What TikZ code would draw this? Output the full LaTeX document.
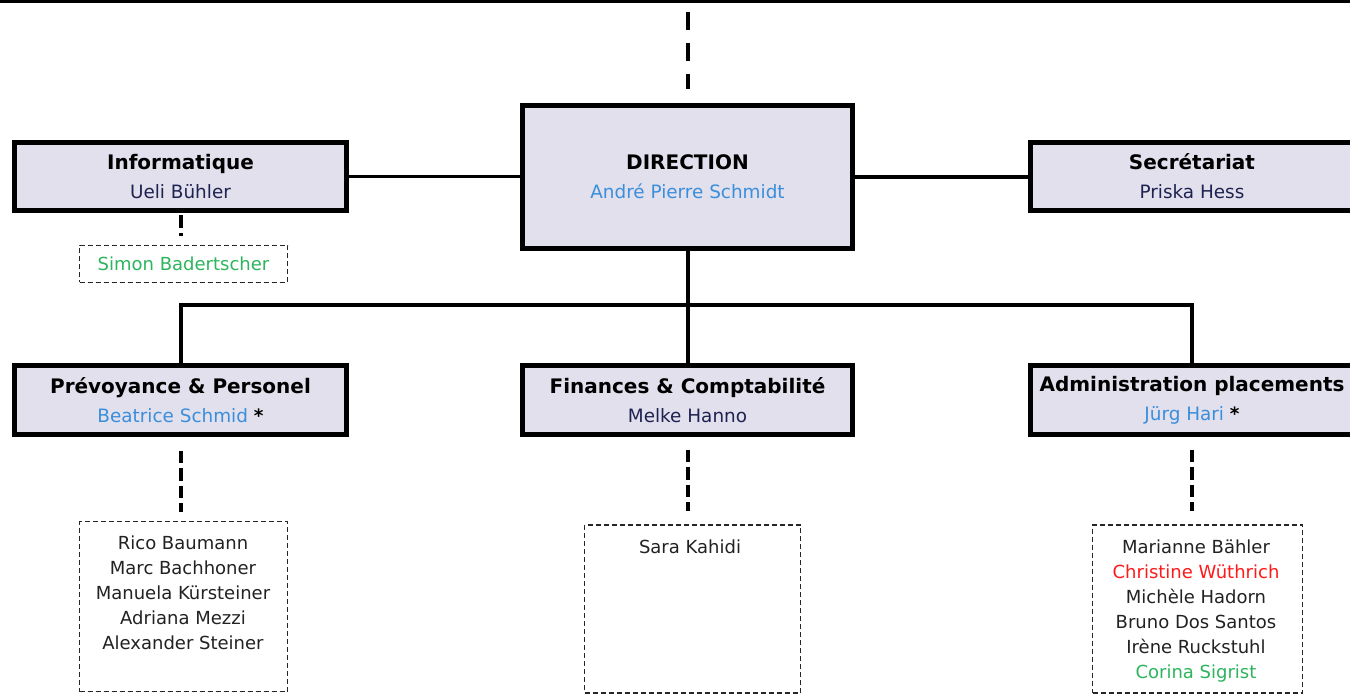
\documentclass[tikz,border=0pt]{standalone}
\usepackage{fontspec}
\setmainfont{DejaVu Sans}
\definecolor{boxfill}{HTML}{E2E0ED}
\definecolor{namenavy}{HTML}{1E2250}
\definecolor{headblue}{HTML}{3B8EDB}
\definecolor{staffgray}{HTML}{222222}
\definecolor{staffgreen}{HTML}{2DB55D}
\definecolor{staffred}{HTML}{FF1A1A}
\newcommand{\unittitle}[1]{{\bfseries\fontsize{10}{14.5}\selectfont #1}}
\begin{document}
\begin{tikzpicture}[x=0.5pt,y=-0.5pt,
  unitbox/.style={draw=black, line width=2.5pt, fill=boxfill, inner sep=0pt, align=center,
    font=\fontsize{9.2}{14.5}\selectfont},
  staffbox/.style={draw=black!85, line width=0.65pt, dash pattern=on 2.5pt off 1.5pt, inner sep=0pt},
  stafftext/.style={align=center, inner sep=0pt, font=\fontsize{9}{12.5}\selectfont, text=staffgray},
  conn/.style={line width=2pt},
  hconn/.style={line width=1.75pt},
  longdash/.style={line width=2pt, dash pattern=on 9pt off 6.5pt},
  shortdash/.style={line width=2pt, dash pattern=on 6.25pt off 2.5pt}]
\useasboundingbox (0,0) rectangle (1350,695);
\fill[white] (0,0) rectangle (1350,695);
\fill[black] (0,0) rectangle (1350,3.5);

% unit boxes
\node[unitbox, minimum width=165pt, minimum height=71.5pt] (dir) at (687.5,177)
  {\unittitle{DIRECTION}\\ \textcolor{headblue}{André Pierre Schmidt}};
\node[unitbox, minimum width=166pt, minimum height=34pt] (inf) at (180.5,176.5)
  {\unittitle{Informatique}\\ \textcolor{namenavy}{Ueli Bühler}};
\node[unitbox, minimum width=161.5pt, minimum height=34pt] (sec) at (1192,176.5)
  {\unittitle{Secrétariat}\\ \textcolor{namenavy}{Priska Hess}};
\node[unitbox, minimum width=166pt, minimum height=34.5pt] (prev) at (180.5,400)
  {\unittitle{Prévoyance \& Personel}\\ \textcolor{headblue}{Beatrice Schmid} {\bfseries *}};
\node[unitbox, minimum width=165pt, minimum height=34.5pt] (fin) at (687.5,400)
  {\unittitle{Finances \& Comptabilité}\\ \textcolor{namenavy}{Melke Hanno}};
\node[unitbox, minimum width=161.5pt, minimum height=34.5pt] (adm) at (1192,400)
  {\unittitle{Administration placements}\\ \textcolor{headblue}{Jürg Hari} {\bfseries *}};

% staff boxes
\node[staffbox, minimum width=104pt, minimum height=18.5pt, stafftext, text=staffgreen] (simon) at (183.5,264) {Simon Badertscher};
\node[staffbox, minimum width=104pt, minimum height=85pt] (staffP) at (183.5,606.5) {};
\node[staffbox, minimum width=108pt, minimum height=84pt] (staffF) at (692.5,609) {};
\node[staffbox, minimum width=105pt, minimum height=84pt] (staffA) at (1197.5,609) {};

\node[stafftext, anchor=north] (staffPtxt) at (183,535)
  {Rico Baumann\\ Marc Bachhoner\\ Manuela Kürsteiner\\ Adriana Mezzi\\ Alexander Steiner};
\node[stafftext, anchor=north] (staffFtxt) at (690,539.5) {Sara Kahidi};
\node[stafftext, anchor=north] (staffAtxt) at (1196,539)
  {Marianne Bähler\\ \textcolor{staffred}{Christine Wüthrich}\\ Michèle Hadorn\\ Bruno Dos Santos\\ Irène Ruckstuhl\\ \textcolor{staffgreen}{Corina Sigrist}};

% connectors
\coordinate (topA) at (688,12);
\draw[longdash, shorten >=6.75pt] (topA) -- (topA |- dir.north);
\draw[hconn] (inf.east) -- (inf.east -| dir.west);
\draw[hconn] (dir.east) -- (dir.east -| sec.west);
\coordinate (bus) at (688,305);
\draw[conn] (dir.south) -- (fin.north);
\draw[conn] (prev.north) |- (bus) -| (adm.north);
\draw[shortdash, shorten <=1.25pt, shorten >=4.5pt] (inf.south) -- (inf.south |- simon.north);
\draw[shortdash, shorten <=6.75pt, shorten >=4.25pt] (prev.south) -- (prev.south |- staffP.north);
\draw[shortdash, shorten <=6.25pt, shorten >=6.5pt] (fin.south) -- (fin.south |- staffF.north);
\draw[shortdash, shorten <=6.25pt, shorten >=6.5pt] (adm.south) -- (adm.south |- staffA.north);
\end{tikzpicture}
\end{document}
